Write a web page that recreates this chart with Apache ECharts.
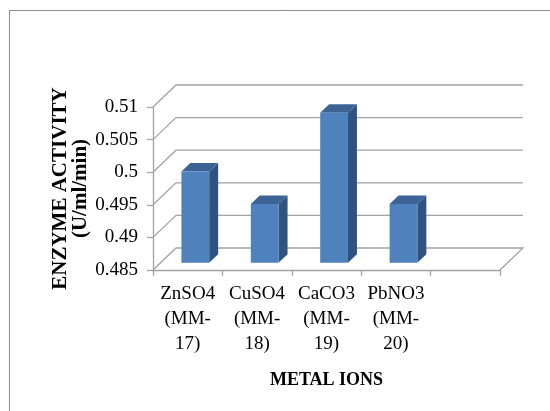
<!DOCTYPE html>
<html>
<head>
<meta charset="utf-8">
<script src="https://cdn.jsdelivr.net/npm/echarts@6/dist/echarts.min.js"></script>
<style>
  html, body { margin: 0; padding: 0; background: #ffffff; }
  #chart { width: 550px; height: 411px; }
</style>
</head>
<body>
<div id="chart"></div>
<script>
// Metal ions tested and the enzyme activity measured with each
const categories = ['ZnSO4\n(MM-\n17)', 'CuSO4\n(MM-\n18)', 'CaCO3\n(MM-\n19)', 'PbNO3\n(MM-\n20)', ''];
const activity = [0.499, 0.494, 0.508, 0.494];
const yTicks = [0.485, 0.49, 0.495, 0.5, 0.505, 0.51];

const yMin = yTicks[0];
const yMax = yTicks[yTicks.length - 1];
const yStep = 0.005;

// Depth of the pseudo-3D box (pixels), and where the bars sit within it
const DX = 23, DY = -22;
const BAR_FRONT = 0.33, BAR_BACK = 0.72, BAR_WIDTH = 0.4;
const GRID_COLOR = '#a3a3a3';

const fmt = v => String(parseFloat(v.toFixed(3)));

const chart = echarts.init(document.getElementById('chart'), null, { renderer: 'canvas' });

// Back wall gridlines with the diagonals joining them to the front axis;
// the lowest one also closes the floor on the right-hand side.
function renderWall(params, api) {
  const cs = params.coordSys;
  const v = api.value(0);
  const p = api.coord([0, v]);
  const y = p[1];
  const x0 = cs.x, x1 = cs.x + cs.width;
  const pts = [[x0, y], [x0 + DX, y + DY], [x1 + DX, y + DY]];
  if (v === yMin) pts.push([x1, y]);
  return {
    type: 'polyline',
    shape: { points: pts },
    style: { stroke: GRID_COLOR, lineWidth: 1.3, fill: null }
  };
}

// Box-shaped bar: front face, top face and right side face
function renderBar(params, api) {
  const idx = api.value(0);
  const val = api.value(1);
  const top = api.coord([idx, val]);
  const base = api.coord([idx, yMin]);
  const w = api.size([1, 0])[0] * BAR_WIDTH;
  const ox = BAR_FRONT * DX, oy = BAR_FRONT * DY;
  const bdx = (BAR_BACK - BAR_FRONT) * DX, bdy = (BAR_BACK - BAR_FRONT) * DY;
  const xl = top[0] - w / 2 + ox, xr = top[0] + w / 2 + ox;
  const yt = top[1] + oy, yb = base[1] + oy;
  return {
    type: 'group',
    children: [
      {
        type: 'polygon',
        shape: { points: [[xr, yt], [xr + bdx, yt + bdy], [xr + bdx, yb + bdy], [xr, yb]] },
        style: { fill: '#30527f' }
      },
      {
        type: 'polygon',
        shape: { points: [[xl, yt], [xr, yt], [xr + bdx, yt + bdy], [xl + bdx, yt + bdy]] },
        style: { fill: '#3c6396' }
      },
      {
        type: 'rect',
        shape: { x: xl, y: yt, width: xr - xl, height: yb - yt },
        style: { fill: '#4f81bd' }
      }
    ]
  };
}

const option = {
  backgroundColor: '#ffffff',
  animation: false,
  graphic: [
    {
      type: 'rect',
      shape: { x: 9.5, y: 10.5, width: 600, height: 500 },
      style: { fill: null, stroke: '#8c8c8c', lineWidth: 1 },
      z: 0
    }
  ],
  grid: { left: 153, top: 107, width: 347, height: 163, containLabel: false },
  xAxis: {
    type: 'category',
    data: categories,
    boundaryGap: true,
    axisLine: { show: true, lineStyle: { color: GRID_COLOR, width: 1.3 } },
    axisTick: { show: true, length: 6, alignWithLabel: false, lineStyle: { color: GRID_COLOR, width: 1.3 } },
    axisLabel: {
      interval: 0,
      margin: 12,
      color: '#000000',
      fontFamily: 'Liberation Serif',
      fontSize: 19,
      lineHeight: 25
    },
    name: 'METAL IONS',
    nameLocation: 'middle',
    nameGap: 101,
    nameMoveOverlap: false,
    nameTextStyle: {
      color: '#000000',
      fontFamily: 'Liberation Serif',
      fontWeight: 'bold',
      fontSize: 18
    },
    splitLine: { show: false }
  },
  yAxis: {
    type: 'value',
    min: yMin,
    max: yMax,
    interval: yStep,
    axisLine: { show: true, lineStyle: { color: GRID_COLOR, width: 1.3 } },
    axisTick: { show: true, length: 6, lineStyle: { color: GRID_COLOR, width: 1.3 } },
    splitLine: { show: false },
    axisLabel: {
      margin: 15,
      color: '#000000',
      fontFamily: 'Liberation Serif',
      fontSize: 19,
      formatter: v => fmt(v)
    },
    name: 'ENZYME ACTIVITY\n(U/ml/min)',
    nameLocation: 'middle',
    nameGap: 62,
    nameMoveOverlap: false,
    nameRotate: 90,
    nameTextStyle: {
      color: '#000000',
      fontFamily: 'Liberation Serif',
      fontWeight: 'bold',
      fontSize: 21,
      lineHeight: 20
    }
  },
  series: [
    {
      type: 'custom',
      name: 'wall',
      data: yTicks.map(v => [v]),
      encode: { y: 0 },
      renderItem: renderWall,
      silent: true,
      z: 1
    },
    {
      type: 'custom',
      name: 'activity',
      data: activity.map((v, i) => [i, v]),
      encode: { x: 0, y: 1 },
      renderItem: renderBar,
      z: 3
    }
  ]
};

chart.setOption(option);
</script>
</body>
</html>
